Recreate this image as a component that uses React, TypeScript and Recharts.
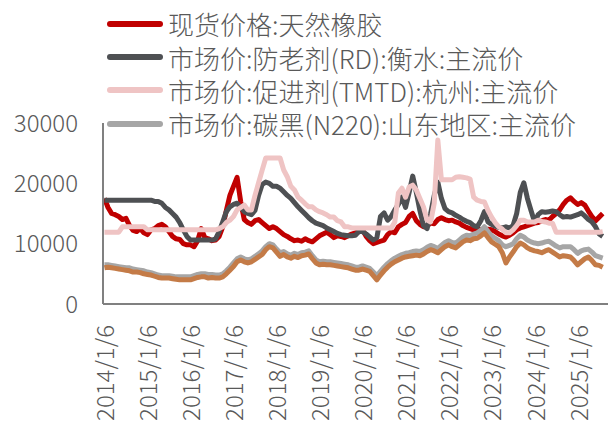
import { CartesianGrid, Line, LineChart, XAxis, YAxis } from "recharts";

// monthly readings, 2014/01 .. 2025/08
const START_YEAR = 2014;

const rubber = [
  17500, 16000, 15000, 14800, 14500, 14000, 14200, 13000, 12200, 12000, 12500, 11800,
  11500, 12300, 12500, 13000, 13200, 12800, 12000, 11200, 10800, 10700, 10000, 9800,
  9800, 9500, 10500, 12500, 11000, 10800, 10500, 10600, 11200, 12800, 15500, 18000,
  19500, 21000, 17000, 14000, 13500, 13200, 13800, 14000, 13500, 13000, 12500, 12800,
  12500, 12000, 11500, 11200, 10800, 10500, 10600, 10400, 10800, 10500, 10300, 10800,
  11300, 11600, 11900, 11500, 11000, 11300, 11200, 11000, 11300, 11600, 11800, 12000,
  12300, 11200, 10500, 10000, 10200, 10400, 10600, 11500, 12000, 11800, 12800, 13200,
  13500, 14500, 15000, 13800, 13200, 12800, 13000, 13400, 13300, 14000, 14300, 14000,
  13800, 13900, 13600, 13400, 13000, 12700, 12500, 12300, 12400, 12300, 12200, 12400,
  12300, 12000, 11600, 11300, 11100, 11400, 11800, 12300, 12600, 12800, 13000, 13200,
  13400, 13500, 13800, 14000, 13900, 14500, 15000, 15600, 16500, 17200, 17600, 17000,
  16500, 16800, 16400, 15400, 14500, 13800, 14400, 15000,
];

const antioxidantRD = [
  17200, 17200, 17200, 17200, 17200, 17200, 17200, 17200, 17200, 17200, 17200, 17200,
  17200, 17200, 17000, 17000, 16700, 16000, 15600, 15000, 14400, 13500, 12300, 11200,
  10600, 10600, 10600, 10600, 10600, 10600, 10600, 10800, 12000, 13600, 15300, 16100,
  16500, 16700, 16000, 15300, 15000, 14800, 15500, 18000, 19800, 20200, 20000, 19500,
  19500, 19200, 18600, 18000, 17500, 16800, 16100, 15500, 14900, 14300, 13800, 13400,
  13200, 13000, 12600, 12300, 12000, 11700, 11500, 11400, 11300, 11300, 11400, 12000,
  12000, 11600, 11100, 10600, 11000, 14500, 15100, 13900, 14500, 15600, 16500, 17700,
  16000, 18500, 21200, 18500, 15500, 13000, 12500, 15000, 18000, 20200, 17500, 15800,
  15300, 15100, 14700, 14400, 14000, 13700, 13500, 13000, 12800, 13800, 15300, 13600,
  13200, 12900, 12700, 12600, 12800, 12600, 13000, 15000, 18500, 20100, 17500, 15500,
  13600, 14800, 15300, 15200, 15300, 15400, 15300, 14800, 14400, 14500, 14400, 14600,
  14800, 15100, 14600, 14000, 13600, 12800, 11600, 11200,
];

const acceleratorTMTD = [
  11900, 11900, 11900, 11900, 11900, 12800, 12800, 12800, 12800, 12800, 12800, 12800,
  12300, 12300, 12300, 12300, 12300, 12300, 12300, 12300, 12300, 12300, 12300, 12300,
  12300, 12300, 12300, 12300, 12300, 12300, 12300, 12300, 12500, 12800, 13500, 13900,
  14500, 15600, 16000, 16400, 15600, 15600, 18000, 20100, 22200, 24200, 24200, 24200,
  24200, 24200, 22200, 21100, 19500, 18900, 17700, 17200, 16600, 16100, 16100, 15600,
  15300, 15100, 14800, 14400, 14400, 13800, 13600, 12800, 12800, 12600, 12600, 12600,
  12600, 12600, 12600, 12600, 12600, 12600, 12600, 12600, 12600, 13600, 18400, 19200,
  17700, 19400, 19700, 18900, 17500, 16100, 13900, 13600, 16700, 27200, 20600, 20600,
  20600, 20600, 21000, 21100, 21000, 20900, 20700, 17700, 17200, 17000, 16900, 15500,
  14400, 13500, 12800, 12400, 11800, 11800, 12300, 13000, 13900, 13900, 13600, 13600,
  13600, 13900, 13700, 13600, 13400, 13400, 11900, 11900, 11900, 11900, 11900, 11900,
  11900, 11900, 11900, 11900, 11900, 11900, 11900, 12000,
];

const carbonN220 = [
  6500, 6500, 6400, 6300, 6200, 6100, 6000, 6000, 5800, 5700, 5600, 5500,
  5300, 5200, 5000, 4800, 4700, 4700, 4700, 4600, 4500, 4500, 4500, 4500,
  4500, 4700, 4900, 5000, 5000, 4900, 4900, 4800, 4800, 5000, 5500, 6100,
  6800, 7500, 7800, 7500, 7300, 7500, 7900, 8300, 8800, 9500, 10000, 9800,
  9100, 8500, 8700, 8300, 8100, 8400, 8200, 8500, 8600, 8800, 8000, 7300,
  7000, 7100, 7000, 7000, 6900, 6800, 6700, 6600, 6500, 6300, 6100, 6100,
  6300, 6100, 5900, 5300, 4700, 5400, 6100, 6700, 7200, 7600, 7900, 8200,
  8400, 8500, 8700, 8800, 8700, 9000, 9400, 9700, 9500, 9200, 9700, 10200,
  10500, 10200, 10100, 10600, 11100, 11400, 11300, 11600, 11800, 12200, 12800, 12000,
  11300, 10900, 10500, 9800, 9500, 9700, 10000, 10800, 11400, 11100, 10600, 10300,
  10100, 10000, 10100, 10300, 10400, 10000, 9600, 9300, 9500, 9500, 9500, 9000,
  8400, 8800, 9000, 9100, 8600, 8000, 7800, 7600,
];

// fifth series, its legend entry is cut off in the source
const carbonN330 = [
  6000, 6100, 6000, 5900, 5800, 5700, 5600, 5500, 5300, 5300, 5200, 5000,
  4900, 4800, 4600, 4400, 4300, 4300, 4300, 4200, 4100, 4000, 4000, 4000,
  4000, 4200, 4400, 4500, 4500, 4300, 4400, 4300, 4300, 4500, 5000, 5600,
  6200, 7000, 7300, 7000, 6800, 7000, 7400, 7800, 8200, 9000, 9500, 9300,
  8600, 7900, 8200, 7800, 7600, 7900, 7700, 8000, 8100, 8300, 7500, 6800,
  6500, 6600, 6500, 6500, 6400, 6300, 6200, 6100, 6000, 5800, 5600, 5600,
  5800, 5600, 5400, 4700, 4000, 4800, 5500, 6100, 6600, 7000, 7300, 7600,
  7800, 7900, 8000, 8100, 8000, 8300, 8700, 9000, 8800, 8500, 9000, 9500,
  9800, 9500, 9300, 9800, 10300, 10600, 10500, 10800, 10900, 11300, 11800, 11000,
  10300, 9900, 9500, 8500, 6800, 7800, 8600, 9500, 10100, 9800, 9300, 9000,
  8800, 8700, 8500, 8800, 9000, 8600, 8200, 7800, 8000, 7900, 7800, 7200,
  6500, 7000, 7500, 7800, 7200, 6500, 6400, 6100,
];

const yearTicks = [2014, 2015, 2016, 2017, 2018, 2019, 2020, 2021, 2022, 2023, 2024, 2025];
const valueTicks = [0, 10000, 20000, 30000];

const seriesNames = [
  "现货价格:天然橡胶",
  "市场价:防老剂(RD):衡水:主流价",
  "市场价:促进剂(TMTD):杭州:主流价",
  "市场价:碳黑(N220):山东地区:主流价",
  "市场价:碳黑(N330):山东地区:主流价",
];
const seriesColors = ["#c00000", "#4e5053", "#efc4c4", "#a6a6a6", "#c47b47"];

const data = rubber.map((v, i) => ({
  t: START_YEAR + i / 12 + 5 / 365,
  rubber: v,
  rd: antioxidantRD[i],
  tmtd: acceleratorTMTD[i],
  n220: carbonN220[i],
  n330: carbonN330[i],
}));
const keys = ["rubber", "rd", "tmtd", "n220", "n330"];

const FONT = '"Noto Sans CJK SC", "Noto Sans", sans-serif';
const TEXT = "#595959";

function YearTick({ x, y, payload }: any) {
  const ty = y + 19;
  return (
    <text
      x={x}
      y={ty}
      transform={`rotate(-90, ${x}, ${ty})`}
      textAnchor="end"
      dominantBaseline="central"
      fontSize={24}
      fontWeight={300}
      fontFamily={FONT}
      fill={TEXT}
    >
      {`${payload.value}/1/6`}
    </text>
  );
}

export default function App() {
  return (
    <div style={{ position: "absolute", left: 0, top: 0, width: 608, height: 421, background: "#fff" }}>
      <LineChart width={608} height={421} data={data} margin={{ top: 123, right: 0, left: 0, bottom: 0 }}>
        <CartesianGrid vertical={false} horizontal={false} />
        <XAxis
          dataKey="t"
          type="number"
          domain={[2013.98, 2025.72]}
          ticks={yearTicks}
          allowDataOverflow
          height={117}
          tickLine={false}
          tickSize={0}
          axisLine={{ stroke: "#808080", strokeWidth: 2 }}
          tick={<YearTick />}
          interval={0}
        />
        <YAxis
          domain={[0, 30000]}
          ticks={valueTicks}
          width={103}
          tickLine={false}
          tickSize={0}
          tickMargin={25}
          axisLine={{ stroke: "#808080", strokeWidth: 2 }}
          tick={{ fontSize: 24, fill: TEXT, fontFamily: FONT, fontWeight: 300 }}
          interval={0}
        />
        {keys.map((k, i) => (
          <Line
            key={k}
            dataKey={k}
            name={seriesNames[i]}
            stroke={seriesColors[i]}
            strokeWidth={5}
            strokeLinejoin="round"
            dot={false}
            activeDot={false}
            isAnimationActive={false}
          />
        ))}
      </LineChart>
      <div
        style={{
          position: "absolute",
          left: 107,
          top: 7,
          fontFamily: FONT,
          fontSize: 26,
          fontWeight: 300,
          color: TEXT,
        }}
      >
        {seriesNames.slice(0, 4).map((name, i) => (
          <div key={name} style={{ display: "flex", alignItems: "center", height: 33.4, whiteSpace: "nowrap" }}>
            <span
              style={{
                display: "inline-block",
                width: 56,
                height: 6,
                borderRadius: 3,
                background: seriesColors[i],
                marginRight: 5,
              }}
            />
            <span style={{ lineHeight: "33px" }}>{name}</span>
          </div>
        ))}
      </div>
    </div>
  );
}
